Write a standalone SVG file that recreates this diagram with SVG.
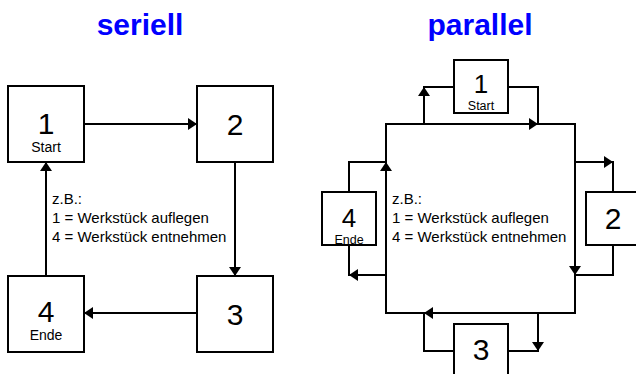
<svg xmlns="http://www.w3.org/2000/svg" xmlns:xlink="http://www.w3.org/1999/xlink" width="636" height="374" viewBox="0 0 636 374">
  <style>
    .box { fill: #fff; stroke: #000; stroke-width: 2; }
    .wire { fill: none; stroke: #000; stroke-width: 2; }
    .title { font-family: "Liberation Sans", Arial, sans-serif; font-weight: bold; font-size: 30px; fill: #0000ff; text-anchor: middle; }
    .num { font-family: "Liberation Sans", Arial, sans-serif; font-size: 30px; fill: #000; text-anchor: middle; }
    .num-s { font-family: "Liberation Sans", Arial, sans-serif; font-size: 26px; fill: #000; text-anchor: middle; }
    .sub { font-family: "Liberation Sans", Arial, sans-serif; font-size: 14px; fill: #000; text-anchor: middle; }
    .sub-s { font-family: "Liberation Sans", Arial, sans-serif; font-size: 12.5px; fill: #000; text-anchor: middle; }
    .note { font-family: "Liberation Sans", Arial, sans-serif; font-size: 15px; fill: #000; }
  </style>
  <defs>
    <!-- arrowhead, tip at origin, pointing along +x -->
    <path id="ah" d="M0,0 L-9,-6 L-9,6 Z" fill="#000"/>
  </defs>
  <rect width="636" height="374" fill="#fff"/>

  <text class="title" x="140" y="35">seriell</text>
  <text class="title" x="480" y="35">parallel</text>

  <!-- serial sequence connectors -->
  <g id="serial-connectors">
    <path class="wire" d="M84,124 H196"/>
    <use xlink:href="#ah" transform="translate(197,124)"/>
    <path class="wire" d="M235,162 V275"/>
    <use xlink:href="#ah" transform="translate(235,276) rotate(90)"/>
    <path class="wire" d="M197,313 H85"/>
    <use xlink:href="#ah" transform="translate(84,313) rotate(180)"/>
    <path class="wire" d="M46,276 V163"/>
    <use xlink:href="#ah" transform="translate(46,162) rotate(-90)"/>
  </g>

  <g id="s1">
    <rect class="box" x="8" y="86" width="76" height="76"/>
    <text class="num" x="46" y="134">1</text>
    <text class="sub" x="46" y="152">Start</text>
  </g>
  <g id="s2">
    <rect class="box" x="197" y="86" width="76" height="76"/>
    <text class="num" x="235" y="135">2</text>
  </g>
  <g id="s3">
    <rect class="box" x="197" y="276" width="76" height="76"/>
    <text class="num" x="235" y="325">3</text>
  </g>
  <g id="s4">
    <rect class="box" x="8" y="276" width="76" height="76"/>
    <text class="num" x="46" y="322">4</text>
    <text class="sub" x="46" y="340">Ende</text>
  </g>

  <g id="serial-note">
    <text class="note" x="52" y="204">z.B.:</text>
    <text class="note" x="52" y="223">1 = Werkstück auflegen</text>
    <text class="note" x="52" y="242">4 = Werkstück entnehmen</text>
  </g>

  <!-- parallel arrangement connectors -->
  <g id="parallel-connectors">
    <path class="wire" d="M386,124 H575 V313 H386 Z"/>
    <path class="wire" d="M424,124 V87 H454"/>
    <use xlink:href="#ah" transform="translate(424,87) rotate(-90)"/>
    <path class="wire" d="M508,87 H538 V124"/>
    <use xlink:href="#ah" transform="translate(538,124)"/>
    <path class="wire" d="M575,162 H613 V192"/>
    <use xlink:href="#ah" transform="translate(613,162)"/>
    <path class="wire" d="M613,245 V275 H575"/>
    <use xlink:href="#ah" transform="translate(575,275) rotate(90)"/>
    <path class="wire" d="M538,313 V351 H508"/>
    <use xlink:href="#ah" transform="translate(538,351) rotate(90)"/>
    <path class="wire" d="M454,351 H424 V313"/>
    <use xlink:href="#ah" transform="translate(424,313) rotate(180)"/>
    <path class="wire" d="M386,275 H349 V245"/>
    <use xlink:href="#ah" transform="translate(349,275) rotate(180)"/>
    <path class="wire" d="M349,192 V162 H386"/>
    <use xlink:href="#ah" transform="translate(386,162) rotate(-90)"/>
  </g>

  <g id="p1">
    <rect class="box" x="454" y="60" width="54" height="53"/>
    <text class="num-s" x="481" y="93">1</text>
    <text class="sub-s" x="481" y="110">Start</text>
  </g>
  <g id="p2">
    <rect class="box" x="586" y="192" width="54" height="53"/>
    <text class="num" x="613" y="229">2</text>
  </g>
  <g id="p3">
    <rect class="box" x="454" y="324" width="54" height="53"/>
    <text class="num" x="481" y="360">3</text>
  </g>
  <g id="p4">
    <rect class="box" x="322" y="192" width="54" height="53"/>
    <text class="num-s" x="349" y="227">4</text>
    <text class="sub-s" x="349" y="243.5">Ende</text>
  </g>

  <g id="parallel-note">
    <text class="note" x="392" y="204">z.B.:</text>
    <text class="note" x="392" y="223">1 = Werkstück auflegen</text>
    <text class="note" x="392" y="242">4 = Werkstück entnehmen</text>
  </g>
</svg>
